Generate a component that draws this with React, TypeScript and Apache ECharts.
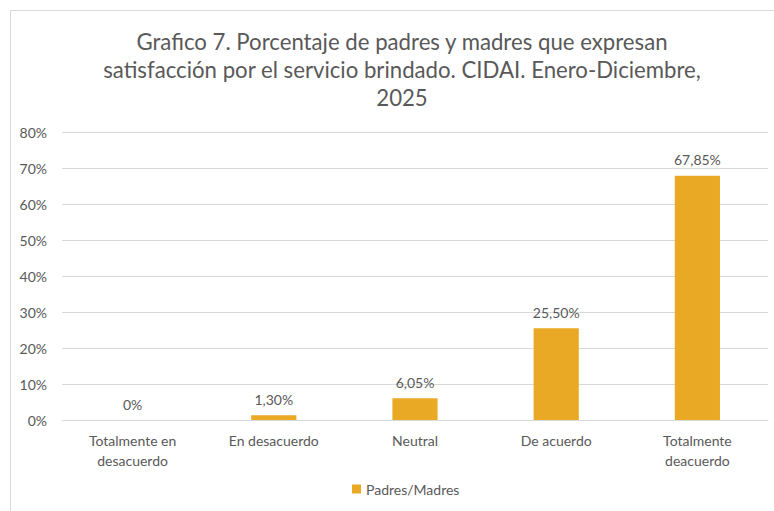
import React, { useEffect, useRef } from "react";
import * as echarts from "echarts";

const titleLines = [
  "Grafico 7. Porcentaje de padres y madres que expresan",
  "satisfacción por el servicio brindado. CIDAI. Enero-Diciembre,",
  "2025",
];
const categories = [
  "Totalmente en\ndesacuerdo",
  "En desacuerdo",
  "Neutral",
  "De acuerdo",
  "Totalmente\ndeacuerdo",
];
const seriesName = "Padres/Madres";
const values = [0, 1.3, 6.05, 25.5, 67.85];
const yTicks = { min: 0, max: 80, interval: 10 };

const FONT = "Lato, 'Open Sans', sans-serif";
const TEXT = "#595959";

export default function App() {
  const ref = useRef<HTMLDivElement>(null);
  useEffect(() => {
    document.body.style.margin = "0";
    const chart = echarts.init(ref.current!, null, { renderer: "svg" });
    chart.setOption({
      animation: false,
      backgroundColor: "#ffffff",
      textStyle: { fontFamily: FONT },
      title: {
        text: titleLines.join("\n"),
        left: 397,
        textAlign: "center",
        top: 22,
        textStyle: {
          fontFamily: FONT,
          fontSize: 22.2,
          fontWeight: "normal",
          color: TEXT,
          lineHeight: 28,
        },
      },
      graphic: [
        {
          type: "rect",
          shape: { x: 10.5, y: 10.5, width: 800, height: 600 },
          style: { fill: "none", stroke: "#d9d9d9", lineWidth: 1 },
          silent: true,
          z: -1,
        },
      ],
      legend: {
        bottom: 10,
        left: 347,
        itemWidth: 9,
        itemHeight: 9,
        itemGap: 10,
        icon: "rect",
        textStyle: { fontFamily: FONT, fontSize: 14, color: TEXT },
        data: [seriesName],
      },
      grid: { left: 62, right: 6, top: 132, bottom: 91 },
      xAxis: {
        type: "category",
        data: categories,
        axisLine: { lineStyle: { color: "#d9d9d9" } },
        axisTick: { show: false },
        axisLabel: {
          fontFamily: FONT,
          fontSize: 14,
          color: TEXT,
          lineHeight: 20,
          margin: 10,
          interval: 0,
        },
      },
      yAxis: {
        type: "value",
        min: yTicks.min,
        max: yTicks.max,
        interval: yTicks.interval,
        axisLine: { show: false },
        axisTick: { show: false },
        splitLine: { lineStyle: { color: "#d9d9d9" } },
        axisLabel: {
          fontFamily: FONT,
          fontSize: 14,
          color: TEXT,
          margin: 15,
          formatter: (v: number) => `${v}%`,
        },
      },
      series: [
        {
          name: seriesName,
          type: "bar",
          data: values,
          barWidth: "32%",
          itemStyle: { color: "#EAA924" },
          label: {
            show: true,
            position: "top",
            distance: 9,
            fontFamily: FONT,
            fontSize: 14,
            color: TEXT,
            formatter: (p: any) =>
              p.value === 0 ? "0%" : `${p.value.toFixed(2).replace(".", ",")}%`,
          },
        },
      ],
    });
    return () => chart.dispose();
  }, []);
  return <div ref={ref} style={{ width: 774, height: 511 }} />;
}
